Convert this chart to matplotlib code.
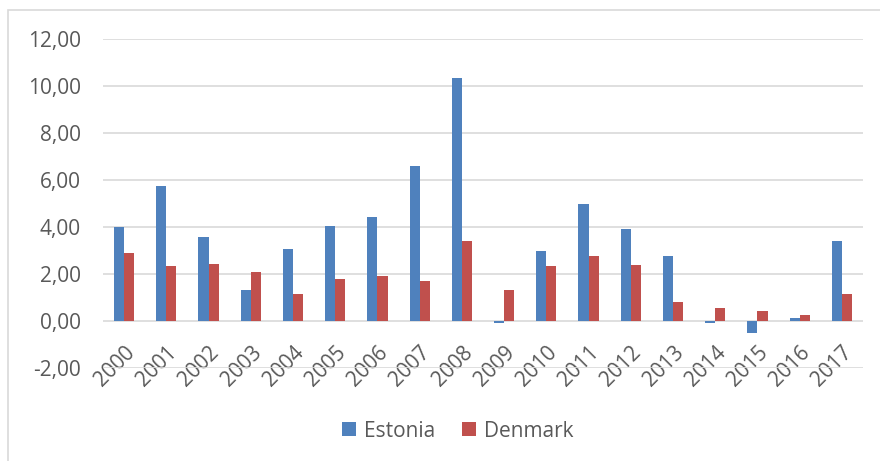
import numpy as np
import matplotlib.pyplot as plt
from matplotlib.patches import Rectangle

years = [str(y) for y in range(2000, 2018)]
estonia = [4.00, 5.75, 3.57, 1.32, 3.05, 4.06, 4.43, 6.60, 10.36, -0.07,
           2.98, 5.00, 3.92, 2.77, -0.10, -0.50, 0.13, 3.41]
denmark = [2.88, 2.34, 2.43, 2.07, 1.15, 1.79, 1.92, 1.69, 3.41, 1.31,
           2.32, 2.76, 2.39, 0.80, 0.54, 0.43, 0.26, 1.15]
yticks = [-2, 0, 2, 4, 6, 8, 10, 12]

plt.rcParams['font.family'] = ['Open Sans', 'DejaVu Sans']
text_col = '#595959'
fs = 15

fig = plt.figure(figsize=(8.8, 4.61), dpi=100)
# chart area border
fig.patches.append(Rectangle((8 / 880, -0.1), 1.2, 1 - 10 / 461 + 0.1,
                             transform=fig.transFigure, fill=False,
                             edgecolor='#D9D9D9', lw=1.2))

ax = fig.add_axes([103 / 880, 1 - 368 / 461, 760 / 880, 329 / 461])

x = np.arange(len(years))
w = 0.24
ax.bar(x - w / 2, estonia, w, color='#4F81BD', label='Estonia', zorder=3)
ax.bar(x + w / 2, denmark, w, color='#C0504D', label='Denmark', zorder=3)

ax.set_xlim(-0.5, len(years) - 0.5)
ax.set_ylim(-2, 12)
ax.set_yticks(yticks)
ax.yaxis.set_major_formatter(plt.FuncFormatter(lambda v, p: ('%.2f' % v).replace('.', ',')))
ax.grid(axis='y', color='#D9D9D9', lw=1.2, zorder=0)

for s in ax.spines.values():
    s.set_visible(False)
ax.spines['bottom'].set_position(('data', 0))

ax.set_xticks(x)
ax.set_xticklabels(years, rotation=45, ha='right', rotation_mode='anchor')
ax.tick_params(axis='x', length=0, pad=15, labelsize=fs, labelcolor=text_col)
ax.tick_params(axis='y', length=0, pad=16, labelsize=fs, labelcolor=text_col)

ax.legend(loc='center', bbox_to_anchor=(458 / 880, 1 - 431 / 461),
          bbox_transform=fig.transFigure, ncol=2, frameon=False,
          fontsize=fs, labelcolor=text_col, handlelength=0.65,
          handleheight=0.65, handletextpad=0.4, columnspacing=1.3)

fig.savefig('out.png', dpi=100)
